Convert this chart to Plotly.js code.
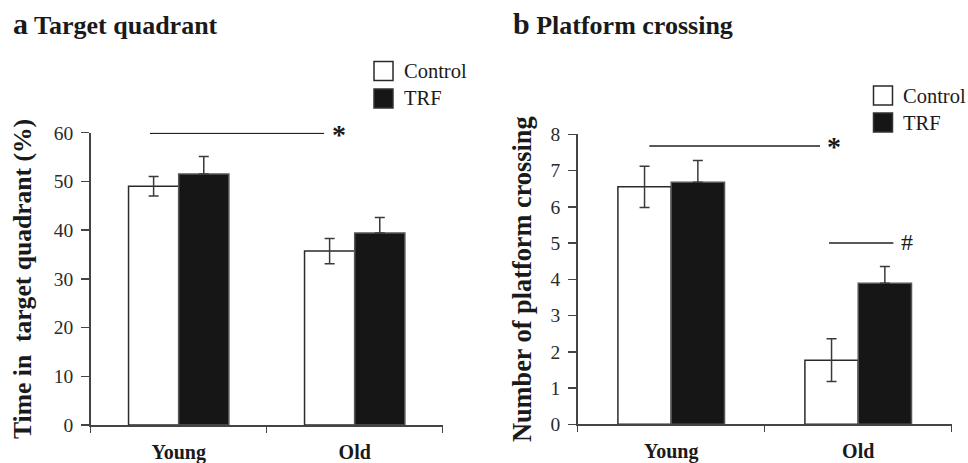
<!DOCTYPE html>
<html>
<head>
<meta charset="utf-8">
<script src="https://cdn.plot.ly/plotly-3.0.1.min.js"></script>
<style>
  html, body { margin: 0; padding: 0; background: #fff; }
  #chart { width: 968px; height: 463px; }
</style>
</head>
<body>
<div id="chart"></div>
<script>
// Groups on the x axis and the two treatment series
const groups = ['Young', 'Old'];
const seriesNames = ['Control', 'TRF'];

// Panel a: time spent in the target quadrant (%), mean and SEM
const quadrantControl = [49.0, 35.7];
const quadrantControlErr = [2.0, 2.6];
const quadrantTRF = [51.5, 39.4];
const quadrantTRFErr = [3.6, 3.2];

// Panel b: number of platform crossings, mean and SEM
const crossingControl = [6.55, 1.77];
const crossingControlErr = [0.57, 0.59];
const crossingTRF = [6.68, 3.89];
const crossingTRFErr = [0.60, 0.46];

// Axis tick values
const quadrantTicks = [0, 10, 20, 30, 40, 50, 60];
const crossingTicks = [0, 1, 2, 3, 4, 5, 6, 7, 8];

const W = 968, H = 463;
const px = v => v / W;          // horizontal pixel -> paper fraction
const py = v => 1 - v / H;      // vertical pixel (from top) -> paper fraction

const SERIF = '"Liberation Serif", "Times New Roman", serif';
const INK = '#2a2a2a';

function barTrace(name, y, err, xa, ya, filled) {
  return {
    type: 'bar',
    name: name,
    x: groups,
    y: y,
    xaxis: xa,
    yaxis: ya,
    showlegend: false,
    marker: {
      color: filled ? '#161616' : '#ffffff',
      line: { color: filled ? '#555555' : INK, width: 1.5 }
    },
    error_y: filled
      ? { type: 'data', symmetric: false, array: err, arrayminus: err.map(() => 0),
          color: '#3a3a3a', thickness: 1.5, width: 5 }
      : { type: 'data', array: err, color: '#3a3a3a', thickness: 1.5, width: 5 }
  };
}

const data = [
  barTrace(seriesNames[0], quadrantControl, quadrantControlErr, 'x', 'y', false),
  barTrace(seriesNames[1], quadrantTRF, quadrantTRFErr, 'x', 'y', true),
  barTrace(seriesNames[0], crossingControl, crossingControlErr, 'x2', 'y2', false),
  barTrace(seriesNames[1], crossingTRF, crossingTRFErr, 'x2', 'y2', true)
];

function xAxis(domain, anchor) {
  return {
    domain: domain,
    anchor: anchor,
    type: 'category',
    categoryarray: groups,
    range: [-0.5, 1.5],
    tickson: 'boundaries',
    ticks: 'outside',
    ticklen: 6,
    tickwidth: 1.5,
    tickcolor: '#444',
    showline: true,
    linecolor: '#444',
    linewidth: 1.5,
    showgrid: false,
    zeroline: false,
    fixedrange: true,
    ticklabelstandoff: 8,
    tickfont: { family: SERIF, size: 20, color: '#1a1a1a', weight: 700 }
  };
}

function yAxis(domain, anchor, ticks) {
  return {
    domain: domain,
    anchor: anchor,
    range: [ticks[0], ticks[ticks.length - 1]],
    tickvals: ticks,
    ticks: 'outside',
    ticklen: 8,
    tickwidth: 1.5,
    tickcolor: '#444',
    showline: true,
    linecolor: '#444',
    linewidth: 1.5,
    showgrid: false,
    zeroline: false,
    fixedrange: true,
    ticklabelstandoff: 4,
    tickfont: { family: SERIF, size: 19.5, color: '#2a2a2a' }
  };
}

// Legend boxes and labels for each panel
function legendItems(xBox, yTops, xText) {
  const shapes = [], notes = [];
  seriesNames.forEach((name, i) => {
    const top = yTops[i];
    shapes.push({
      type: 'rect', xref: 'paper', yref: 'paper',
      x0: px(xBox), x1: px(xBox + 19), y0: py(top + 19), y1: py(top),
      fillcolor: i === 0 ? '#ffffff' : '#161616',
      line: { color: i === 0 ? INK : '#333', width: 1.5 }
    });
    notes.push({
      xref: 'paper', yref: 'paper', x: px(xText), y: py(top + 9.5),
      xanchor: 'left', yanchor: 'middle', showarrow: false,
      text: name, font: { family: SERIF, size: 20.5, color: '#1a1a1a' }
    });
  });
  return { shapes, notes };
}

const legA = legendItems(374, [61.5, 89], 402);
const legB = legendItems(873.5, [86, 113], 901);

// Significance bars
const sigLine = (xa, ya, x0, x1, y) => ({
  type: 'line', xref: xa, yref: ya, x0: x0, x1: x1, y0: y, y1: y,
  line: { color: '#222', width: 1.5 }
});
const sigMark = (xa, ya, x, y, text, size, weight, shift) => ({
  xref: xa, yref: ya, x: x, y: y, text: text, showarrow: false,
  xanchor: 'center', yanchor: 'middle', yshift: shift,
  font: { family: SERIF, size: size, color: '#1a1a1a', weight: weight }
});

const layout = {
  width: W,
  height: H,
  margin: { l: 0, r: 0, t: 0, b: 0 },
  paper_bgcolor: '#ffffff',
  plot_bgcolor: '#ffffff',
  barmode: 'group',
  bargap: 0.43,
  bargroupgap: 0,
  showlegend: false,
  xaxis: xAxis([px(90.7), px(442.7)], 'y'),
  yaxis: yAxis([py(425), py(132.7)], 'x', quadrantTicks),
  xaxis2: xAxis([px(577.7), px(951.7)], 'y2'),
  yaxis2: yAxis([py(424.3), py(134.3)], 'x2', crossingTicks),
  shapes: [
    sigLine('x', 'y', -0.163, 0.826, 59.9),
    sigLine('x2', 'y2', -0.117, 0.796, 7.68),
    sigLine('x2', 'y2', 0.844, 1.188, 5.0),
    ...legA.shapes,
    ...legB.shapes
  ],
  annotations: [
    // panel titles
    { xref: 'paper', yref: 'paper', x: px(11), y: py(24), xanchor: 'left', yanchor: 'middle',
      showarrow: false,
      text: '<span style="font-size:30px">a</span> Target quadrant',
      font: { family: SERIF, size: 26, color: '#1a1a1a', weight: 700 } },
    { xref: 'paper', yref: 'paper', x: px(511), y: py(24), xanchor: 'left', yanchor: 'middle',
      showarrow: false,
      text: '<span style="font-size:30px">b</span> Platform crossing',
      font: { family: SERIF, size: 26, color: '#1a1a1a', weight: 700 } },
    // y axis titles
    { xref: 'paper', yref: 'paper', x: px(22), y: py(279), xanchor: 'center', yanchor: 'middle',
      textangle: -90, showarrow: false,
      text: 'Time in\u00a0 target quadrant (%)',
      font: { family: SERIF, size: 25.6, color: '#1a1a1a', weight: 700 } },
    { xref: 'paper', yref: 'paper', x: px(522), y: py(279), xanchor: 'center', yanchor: 'middle',
      textangle: -90, showarrow: false,
      text: 'Number of platform crossing',
      font: { family: SERIF, size: 26.3, color: '#1a1a1a', weight: 700 } },
    // significance marks
    sigMark('x', 'y', 0.911, 59.9, '*', 28, 700, -1),
    sigMark('x2', 'y2', 0.872, 7.68, '*', 28, 700, -1),
    sigMark('x2', 'y2', 1.259, 5.0, '#', 24, 400, 1),
    ...legA.notes,
    ...legB.notes
  ]
};

Plotly.newPlot('chart', data, layout, { staticPlot: true, displayModeBar: false });
</script>
</body>
</html>
